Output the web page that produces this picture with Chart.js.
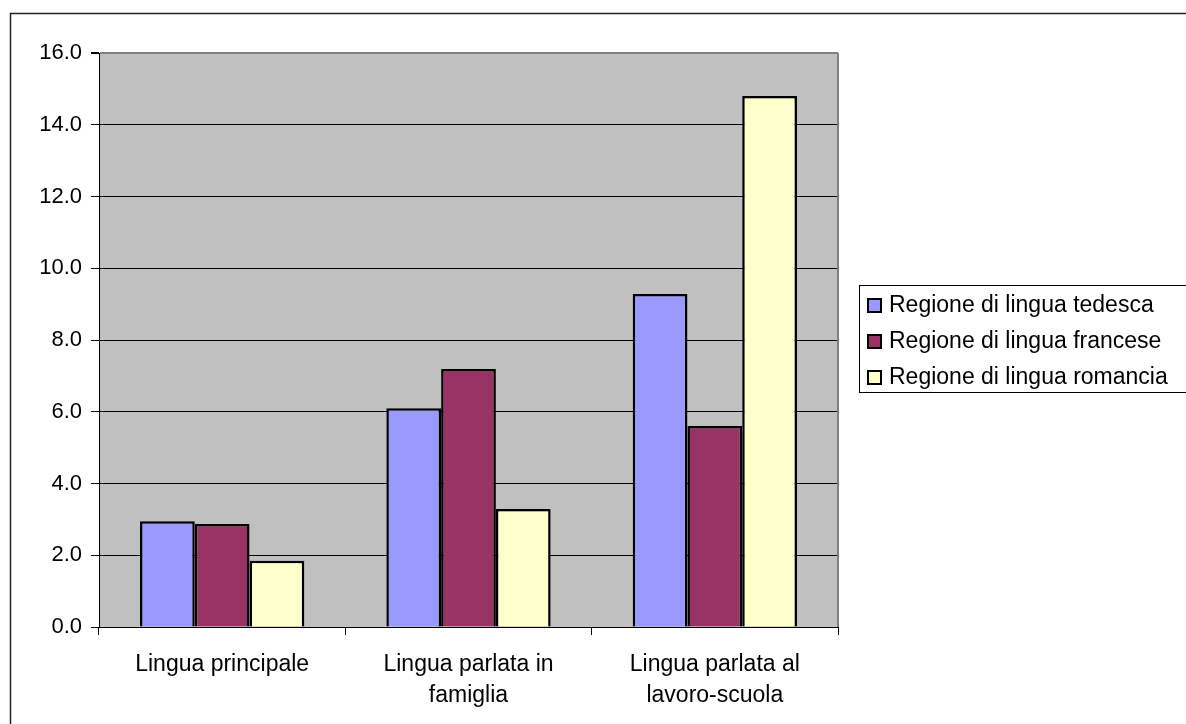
<!DOCTYPE html>
<html>
<head>
<meta charset="utf-8">
<script src="https://cdn.jsdelivr.net/npm/chart.js@4/dist/chart.umd.min.js"></script>
<style>
    html, body { margin: 0; padding: 0; background: #fff; overflow: hidden; }
    #wrap { width: 1186px; height: 724px; position: relative; }
</style>
</head>
<body>
<div id="wrap"><canvas id="myChart" width="1186" height="724"></canvas></div>
<script>
// data
const categories = [['Lingua principale'], ['Lingua parlata in', 'famiglia'], ['Lingua parlata al', 'lavoro-scuola']];
const seriesNames = ['Regione di lingua tedesca', 'Regione di lingua francese', 'Regione di lingua romancia'];
const tedesca = [2.95, 6.1, 9.28];
const francese = [2.87, 7.19, 5.6];
const romancia = [1.85, 3.29, 14.8];
const yMin = 0, yMax = 16, yStep = 2;

const colors = ['#9999FF', '#993366', '#FFFFCC'];
const fontFamily = "'Liberation Sans', Arial, sans-serif";

//
// background, outer frame, plot border, legend
//
const framePlugin = {
    id: 'frame',
    beforeDraw(chart) {
        const ctx = chart.ctx;
        const a = chart.chartArea;
        ctx.save();
        ctx.fillStyle = '#fff';
        ctx.fillRect(0, 0, chart.width, chart.height);
        ctx.strokeStyle = '#222';
        ctx.lineWidth = 1.5;
        ctx.strokeRect(10.5, 13.5, chart.width + 20, chart.height + 20);
        ctx.fillStyle = '#C0C0C0';
        ctx.fillRect(a.left, a.top, a.right - a.left, a.bottom - a.top);
        ctx.restore();
    },
    beforeDatasetsDraw(chart) {
        const ctx = chart.ctx;
        const a = chart.chartArea;
        ctx.save();
        ctx.strokeStyle = '#808080';
        ctx.lineWidth = 2;
        ctx.beginPath();
        ctx.moveTo(a.right, a.top);
        ctx.lineTo(a.right, a.bottom);
        ctx.stroke();
        ctx.restore();
    },
    afterDraw(chart) {
        const ctx = chart.ctx;
        ctx.save();
        ctx.strokeStyle = '#000';
        ctx.lineWidth = 1;
        ctx.strokeRect(859.5, 285.5, 400, 107);
        ctx.font = '23px ' + fontFamily;
        ctx.textBaseline = 'middle';
        chart.data.datasets.forEach((ds, i) => {
            const cy = 305 + i * 36;
            ctx.fillStyle = ds.backgroundColor;
            ctx.fillRect(868, cy - 6, 13, 13);
            ctx.strokeStyle = '#000';
            ctx.lineWidth = 2;
            ctx.strokeRect(868, cy - 6, 13, 13);
            ctx.fillStyle = '#000';
            ctx.fillText(ds.label, 889, cy + 1);
        });
        ctx.restore();
    }
};

const series = [tedesca, francese, romancia];
let datasets = [];
for (let i = 0; i < series.length; i++) {
    datasets[i] = {
        label: seriesNames[i],
        data: series[i],
        backgroundColor: colors[i],
        borderColor: '#000',
        borderWidth: 2.5,
        barPercentage: 1,
        categoryPercentage: 0.667,
    };
}

var myChart = new Chart(document.getElementById('myChart').getContext('2d'), {
    type: 'bar',
    data: {
        labels: categories,
        datasets: datasets,
    },
    options: {
        responsive: false,
        devicePixelRatio: 1,
        animation: false,
        layout: {
            padding: { left: 10, top: 53, right: 348, bottom: 0 },
        },
        plugins: {
            legend: { display: false },
            tooltip: { enabled: false },
        },
        scales: {
            x: {
                offset: true,
                grid: {
                    offset: true,
                    drawOnChartArea: false,
                    drawTicks: true,
                    tickLength: 8,
                    tickColor: '#000',
                },
                border: { color: '#000', width: 1 },
                ticks: {
                    color: '#000',
                    padding: 14,
                    maxRotation: 0,
                    autoSkip: false,
                    font: { family: fontFamily, size: 23, lineHeight: 1.35 },
                },
                afterFit(scale) { scale.height = 97; },
            },
            y: {
                min: yMin,
                max: yMax,
                grid: {
                    color: (c) => c.tick && c.tick.value === yMax ? '#808080' : '#000',
                    lineWidth: (c) => c.tick && c.tick.value === yMax ? 2 : 1,
                    tickColor: '#000',
                    tickLength: 8,
                },
                border: { color: '#000', width: 1 },
                ticks: {
                    stepSize: yStep,
                    color: '#000',
                    padding: 9,
                    font: { family: fontFamily, size: 22 },
                    callback: (v) => Number(v).toFixed(1),
                },
                afterFit(scale) { scale.width = 89; },
            },
        },
    },
    plugins: [framePlugin],
});
</script>
</body>
</html>
